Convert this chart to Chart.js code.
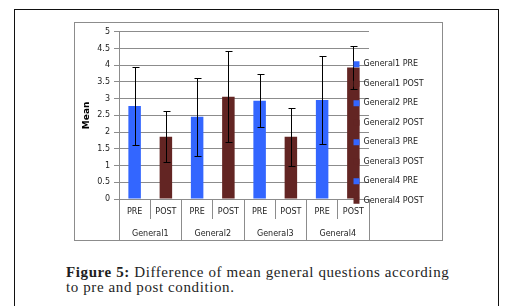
<!DOCTYPE html>
<html><head><meta charset="utf-8">
<script src="https://cdn.jsdelivr.net/npm/chart.js@4"></script>
<style>
html,body{margin:0;padding:0;background:#fff;width:522px;height:306px;overflow:hidden;}
#frame{position:absolute;left:14px;top:9px;width:483px;height:400px;border:1px solid #111;}
#box{position:absolute;left:74px;top:22px;width:367px;height:217px;border:1px solid #8c8c8c;}
#box canvas{display:block;}
#cap{position:absolute;left:66px;top:265px;font:15px/15px "Liberation Serif",serif;letter-spacing:0.6px;color:#1e1e1e;white-space:nowrap;}
</style></head><body>
<div id="frame"></div>
<div id="box"><canvas id="c" width="367" height="217"></canvas></div>
<div id="cap"><b>Figure 5:</b> Difference of mean general questions according<br>to pre and post condition.</div>
<script>
const categories = ['PRE','POST','PRE','POST','PRE','POST','PRE','POST'];
const groups = ['General1','General2','General3','General4'];
const seriesNames = ['General1 PRE','General1 POST','General2 PRE','General2 POST','General3 PRE','General3 POST','General4 PRE','General4 POST'];
const means = [2.78, 1.86, 2.46, 3.06, 2.94, 1.86, 2.96, 3.93];
const errors = [1.17, 0.76, 1.17, 1.37, 0.79, 0.86, 1.33, 0.65];
const yTicks = [0,0.5,1,1.5,2,2.5,3,3.5,4,4.5,5];

const preColor = '#3366ff', postColor = '#632523', gridColor = '#8c8c8c';
const fam = "'DejaVu Sans', Verdana, sans-serif";
Chart.defaults.font.family = fam;
Chart.defaults.font.size = 8;
Chart.defaults.color = '#222';

const datasets = seriesNames.map((name, i) => ({
  label: name,
  data: means.map((v, j) => j === i ? v : null),
  backgroundColor: i % 2 === 0 ? preColor : postColor,
  borderWidth: 0,
  grouped: false,
  barPercentage: 0.4,
  categoryPercentage: 1
}));

const errorBars = {
  id: 'errorBars',
  afterDatasetsDraw(chart) {
    const {ctx, scales: {x, y}} = chart;
    ctx.save();
    ctx.strokeStyle = '#000';
    ctx.lineWidth = 1;
    means.forEach((m, i) => {
      const px = Math.round(x.getPixelForValue(i)) + 0.5;
      const top = Math.round(y.getPixelForValue(m + errors[i])) + 0.5;
      const bot = Math.round(y.getPixelForValue(m - errors[i])) + 0.5;
      ctx.beginPath();
      ctx.moveTo(px, top); ctx.lineTo(px, bot);
      ctx.moveTo(px - 3, top); ctx.lineTo(px + 4, top);
      ctx.moveTo(px - 3, bot); ctx.lineTo(px + 4, bot);
      ctx.stroke();
    });
    ctx.restore();
  }
};

const legendPlace = {
  id: 'legendPlace',
  afterInit(chart) {
    const lg = chart.legend;
    if (!lg) return;
    lg._layers = () => [{z: 1, draw(area) { lg.draw(area); }}];
    const origFit = lg.fit.bind(lg);
    lg.fit = function() { origFit(); this.width = 73; };
  },
  afterLayout(chart) {
    const lg = chart.legend;
    if (!lg) return;
    lg.left = 267; lg.right = 367; lg.width = 100;
    lg.top = 1; lg.bottom = 218; lg.height = 217;
  }
};

new Chart(document.getElementById('c'), {
  type: 'bar',
  data: {labels: categories, datasets},
  plugins: [errorBars, legendPlace],
  options: {
    responsive: false,
    animation: false,
    layout: {padding: {top: 6, right: 0, bottom: 0, left: 0}},
    plugins: {
      tooltip: {enabled: false},
      legend: {
        position: 'right',
        labels: {boxWidth: 6, boxHeight: 6, padding: 11.5, color: '#222', font: {size: 8, family: fam}}
      }
    },
    scales: {
      x: {
        type: 'category', offset: true, weight: 0,
        grid: {offset: true, drawOnChartArea: false, tickLength: 20, color: gridColor},
        border: {color: gridColor},
        ticks: {padding: -12, maxRotation: 0, autoSkip: false, color: '#222'},
        afterFit(s) { s.height = 20; }
      },
      x2: {
        type: 'category', labels: groups, position: 'bottom', offset: true, weight: 1,
        grid: {offset: true, drawOnChartArea: false, tickLength: 21, color: gridColor},
        border: {display: false},
        ticks: {padding: -11, maxRotation: 0, autoSkip: false, color: '#222'},
        afterFit(s) { s.height = 21; }
      },
      y: {
        min: 0, max: 5,
        afterBuildTicks(s) { s.ticks = yTicks.map(v => ({value: v})); },
        ticks: {padding: 4, color: '#222', callback: v => String(v)},
        grid: {color: gridColor, tickLength: 5},
        border: {color: gridColor},
        title: {display: true, text: 'Mean', color: '#000', font: {size: 9, weight: 'bold', family: fam}, padding: {top: 6, bottom: 0}},
        afterFit(s) { s.width = 44; }
      }
    }
  }
});
</script>
</body></html>
